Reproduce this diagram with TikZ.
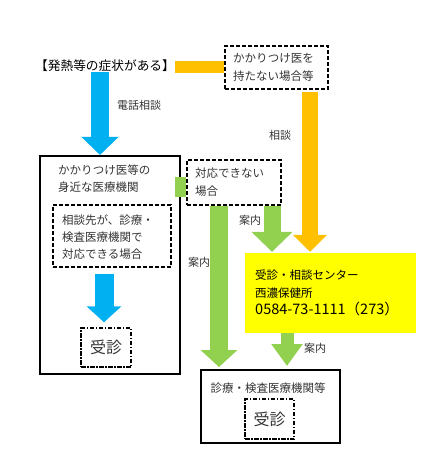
\documentclass[tikz,border=0pt]{standalone}
\usepackage{fontspec}
\setmainfont{Noto Sans CJK JP}
\usetikzlibrary{arrows.meta,calc}
\definecolor{cblue}{HTML}{00B0F0}
\definecolor{corange}{HTML}{FFC000}
\definecolor{cgreen}{HTML}{92D050}
\definecolor{cyellow}{HTML}{FFFF00}
\definecolor{ctext}{HTML}{333333}
\begin{document}
\begin{tikzpicture}[x=1pt,y=-1pt,
  txt/.style={inner sep=0pt, text=ctext, align=left, font=\fontsize{11.5}{17}\selectfont},
  lbl/.style={inner sep=0pt, text=ctext, font=\fontsize{11}{13}\selectfont},
  dbox/.style={draw, line width=1.4pt, dash pattern=on 4pt off 2pt, inner sep=0pt},
  ddbox/.style={draw, line width=1.4pt, dash pattern=on 4.5pt off 1.5pt on 1.5pt off 1.5pt, inner sep=0pt},
  sbox/.style={draw, line width=2pt, inner sep=0pt},
  blockarrow/.style n args={4}{draw=#1, line width=#2, line cap=butt, -{Triangle[length=#4,width=#3]}},
  bar/.style n args={2}{draw=#1, line width=#2, line cap=butt},
]
\useasboundingbox (0,0) rectangle (436,462);

% boxes
\node[dbox, minimum width=103pt, minimum height=43pt] (nohome) at (276.5,67.5) {};
\node[sbox, minimum width=140pt, minimum height=218pt] (leftbox) at (110,265) {};
\node[dbox, minimum width=118pt, minimum height=62pt] (inner) at (112,236) {};
\node[ddbox, minimum width=50pt, minimum height=39pt, font=\fontsize{16}{18}\selectfont, text=ctext] (jushinA) at (106,347.5) {受診};
\node[dbox, minimum width=94pt, minimum height=45pt] (cannot) at (234,182.5) {};
\node[fill=cyellow, minimum width=171pt, minimum height=80pt, inner sep=0pt] (center) at (330.5,293) {};
\node[sbox, minimum width=139pt, minimum height=73pt] (bottom) at (270.5,406.5) {};
\node[ddbox, minimum width=49pt, minimum height=40pt, font=\fontsize{16}{18}\selectfont, text=ctext] (jushinB) at (269.5,419) {受診};

% texts
\node[txt, font=\fontsize{12.7}{15}\selectfont, text=black] (title) at (105,66) {【発熱等の症状がある】};
\node[txt, anchor=north west, font=\fontsize{11.5}{18}\selectfont] (nohometxt) at (233,53) {かかりつけ医を\\持たない場合等};
\node[txt, anchor=north west, font=\fontsize{11.5}{16.5}\selectfont] (lefttxt) at (58,165) {かかりつけ医等の\\身近な医療機関};
\node[txt, anchor=north west] (innertxt) at (62,215) {相談先が、診療・\\検査医療機関で\\対応できる場合};
\node[txt, anchor=north west, font=\fontsize{11.5}{18}\selectfont] (cannottxt) at (195,168) {対応できない\\場合};
\node[txt, anchor=north west, font=\fontsize{11.5}{17.5}\selectfont, text=black] (centertxt) at (255,270) {受診・相談センター\\西濃保健所\\{\fontsize{14.5}{16}\selectfont 0584-73-1111（273）}};
\node[txt, font=\fontsize{11.5}{14}\selectfont] (bottomtxt) at (268,388) {診療・検査医療機関等};

% connectors
\draw[blockarrow={cblue}{18pt}{36pt}{18pt}] (100,0 |- title.south) -- (100,0 |- leftbox.north);
\draw[blockarrow={cblue}{19pt}{34pt}{16pt}] ($(104,0 |- inner.south)+(0,6)$) -- ($(104,0 |- jushinA.north)+(0,-5)$);
\draw[bar={corange}{12pt}] (title.east |- 0,67) -- (nohome.west |- 0,67);
\draw[blockarrow={corange}{16pt}{33pt}{17pt}] ($(310,0 |- nohome.south)+(0,2)$) -- ($(310,0 |- center.north)+(0,-1)$);
\draw[bar={cgreen}{20pt}] (175,187) -- (cannot.west |- 0,187);
\draw[blockarrow={cgreen}{18pt}{36pt}{17pt}] (219,0 |- cannot.south) -- ($(219,0 |- bottom.north)+(0,-2)$);
\draw[blockarrow={cgreen}{17pt}{40pt}{20pt}] (272,0 |- cannot.south) -- ($(272,0 |- center.north)+(0,-1)$);
\draw[blockarrow={cgreen}{13pt}{30pt}{22pt}] (287,0 |- center.south) -- ($(287,0 |- bottom.north)+(0,-3)$);

% connector labels
\node[lbl] (l1) at (139,105) {電話相談};
\node[lbl] (l2) at (280,135) {相談};
\node[lbl] (l3) at (199,262) {案内};
\node[lbl] (l4) at (250,220) {案内};
\node[lbl] (l5) at (315,348) {案内};
\end{tikzpicture}
\end{document}
